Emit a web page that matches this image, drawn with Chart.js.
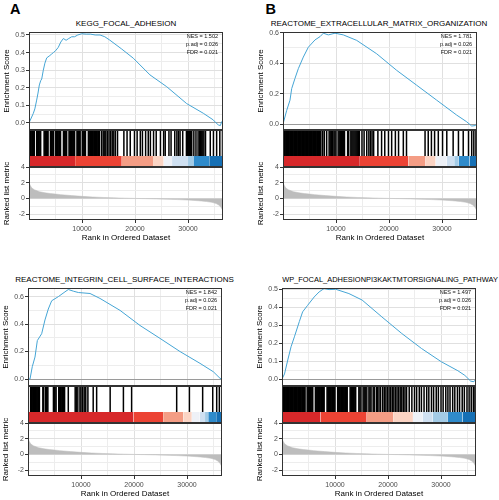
<!DOCTYPE html>
<html><head><meta charset="utf-8">
<script src="https://cdn.jsdelivr.net/npm/chart.js@4.4.0/dist/chart.umd.min.js"></script>
<style>
html,body{margin:0;padding:0;background:#fff;}
#wrap{position:relative;width:499px;height:500px;overflow:hidden;font-family:"Liberation Sans",Arial,sans-serif;}
canvas{position:absolute;}
.lbl{position:absolute;font-weight:bold;font-size:14.5px;line-height:14px;color:#000;white-space:nowrap;}
.ttl{position:absolute;font-size:8px;line-height:10px;text-align:center;white-space:nowrap;color:#000;width:300px;}
</style></head><body><div id="wrap"></div>
<script>
// ---------------- data ----------------
const N = 36600;
const rankTicks = [5000, 10000, 15000, 20000, 25000, 30000, 35000];
const rankLabels = [10000, 20000, 30000];

// ranked list metric (shared by all panels)
const metricRank  = [0, 200, 500, 1000, 2000, 3000, 4000, 5000, 6000, 8000, 10000, 12000, 14000, 16000, 18000, 20000, 22000, 24000, 26000, 28000, 30000, 32000, 33500, 34500, 35300, 35800, 36200, 36450, 36600];
const metricValue = [2.1, 1.7, 1.35, 1.1, 0.85, 0.72, 0.62, 0.55, 0.48, 0.36, 0.26, 0.18, 0.12, 0.07, 0.03, 0.0, -0.03, -0.06, -0.1, -0.15, -0.21, -0.3, -0.4, -0.5, -0.65, -0.85, -1.1, -1.4, -1.8];
const metricTicks = [-2, -1, 0, 1, 2, 3, 4];
const metricLabels = [-2, 0, 2, 4];

// running enrichment scores
const esRankA  = [0, 820, 1100, 1450, 1700, 1950, 2200, 2400, 2700, 3000, 3340, 3800, 4200, 4590, 5000, 5530, 6000, 6480, 7000, 7500, 8050, 8600, 9200, 9940, 10800, 11600, 12500, 13400, 14300, 15280, 17500, 19680, 22830, 25980, 29750, 32890, 34780, 35300, 35720, 36100, 36350, 36600];
const esScoreA = [0, 0.055, 0.08, 0.13, 0.17, 0.216, 0.24, 0.25, 0.30, 0.34, 0.37, 0.38, 0.39, 0.40, 0.41, 0.43, 0.46, 0.48, 0.47, 0.48, 0.49, 0.49, 0.50, 0.507, 0.505, 0.505, 0.50, 0.50, 0.49, 0.47, 0.42, 0.368, 0.273, 0.206, 0.11, 0.055, 0.017, 0.0, -0.011, -0.015, 0.007, 0];
const esRankB  = [0, 700, 1320, 1640, 2260, 2890, 3830, 4780, 6040, 7000, 7610, 8550, 9810, 11380, 13900, 17670, 21450, 25230, 29000, 32770, 34660, 35600, 36230, 36600];
const esScoreB = [0, 0.09, 0.157, 0.233, 0.30, 0.364, 0.44, 0.505, 0.553, 0.575, 0.597, 0.586, 0.597, 0.586, 0.55, 0.462, 0.353, 0.255, 0.157, 0.059, 0.015, -0.013, -0.01, 0];
const esRankC  = [0, 380, 810, 1320, 1760, 2580, 3200, 3830, 4470, 5720, 6980, 7610, 8550, 9500, 11700, 13580, 17360, 21130, 24900, 28680, 32450, 34960, 36230, 36600];
const esScoreC = [0, 0.0, 0.09, 0.16, 0.28, 0.33, 0.43, 0.51, 0.57, 0.60, 0.635, 0.652, 0.64, 0.63, 0.623, 0.587, 0.50, 0.39, 0.296, 0.2, 0.114, 0.053, 0.005, 0];
const esRankD  = [0, 470, 1090, 1710, 2340, 3270, 3890, 4820, 6070, 7000, 7940, 8880, 10130, 12620, 15110, 18840, 22580, 26320, 30060, 33180, 34500, 35600, 36200, 36600];
const esScoreD = [0, 0.028, 0.106, 0.18, 0.235, 0.32, 0.374, 0.41, 0.457, 0.485, 0.504, 0.498, 0.5, 0.476, 0.44, 0.346, 0.254, 0.17, 0.096, 0.046, 0.02, -0.012, -0.015, 0];

// enrichment-score axes: [min, max], grid ticks, labelled ticks
const esRangeA = [-0.04, 0.517],  esTicksA = [0, 0.05, 0.1, 0.15, 0.2, 0.25, 0.3, 0.35, 0.4, 0.45, 0.5], esLabelsA = [0, 0.1, 0.2, 0.3, 0.4, 0.5];
const esRangeB = [-0.039, 0.605], esTicksB = [0, 0.1, 0.2, 0.3, 0.4, 0.5, 0.6],                         esLabelsB = [0, 0.2, 0.4, 0.6];
const esRangeC = [-0.051, 0.663], esTicksC = [0, 0.1, 0.2, 0.3, 0.4, 0.5, 0.6],                         esLabelsC = [0, 0.2, 0.4, 0.6];
const esRangeD = [-0.039, 0.507], esTicksD = [0, 0.05, 0.1, 0.15, 0.2, 0.25, 0.3, 0.35, 0.4, 0.45, 0.5], esLabelsD = [0, 0.1, 0.2, 0.3, 0.4, 0.5];
const metricRange = [-2.75, 4];

// gene-set hit positions (rank)
const hitsA = [100,250,400,550,700,850,1000,1450,1600,1750,1900,2050,2200,2850,3000,3150,3300,3450,3600,4050,4200,4350,4500,4650,5050,5200,5350,5500,5650,5800,5950,6500,6650,6800,6950,7100,7550,7700,7850,8000,8150,8300,8450,8600,9050,9200,9350,9500,9650,10050,10200,10350,10500,10650,11200,11350,11500,11650,11800,11950,12100,12250,12400,12550,12700,12850,13000,13150,13300,
  13700,14000,14300,14500,14800,15100,15400,15700,16000,16300,16700,
  17900,18500,19100,19900,20400,21000,21400,22000,22500,22900,23500,24000,24800,25400,25700,26400,26800,27500,27900,28200,28500,29000,
  29700,29900,30100,30300,30500,30700,31100,31500,31900,32200,32400,32600,32800,33000,33300,
  34200,34800,35400,36000,36500];
const hitsB = [100,250,400,550,700,850,1000,1150,1300,1450,1600,1750,1900,2050,2200,2350,2500,2650,2800,2950,3100,3250,3400,3550,3700,3850,4000,4150,4300,4450,4600,4750,4900,5050,5200,5350,5500,5650,5800,5950,6100,6250,6400,6550,6700,6850,7000,7150,
  7500,7800,8240,8700,8900,9100,9300,9600,9800,10000,10400,10600,10800,11000,11200,11400,11600,12200,12400,12800,13000,13200,13400,13600,13800,14000,14200,14400,14900,15300,15800,16200,16500,16800,17100,17900,18600,19200,19900,20500,21200,21800,22700,23300,
  26800,27400,28000,28600,29300,30100,30900,32100,33100,34000,35000,35600,36000,36400];
const hitsC = [500,650,800,1000,1250,1400,1550,1700,1850,2000,2150,2800,2950,3300,3450,3600,3750,4800,4950,5100,5300,5800,5950,6100,6250,6400,6550,6700,6900,7600,8900,9100,9400,9800,10000,10300,10600,10900,11300,12300,12950,15500,18000,19550,28050,30450,32950,34850,35600,36100];
const hitsD = [150,300,450,600,750,900,1050,1200,1350,1500,1650,1800,1950,2100,2250,2400,2550,2700,2850,3000,3150,3300,3450,3600,3750,3900,4050,4200,4350,4750,4900,5050,5200,5350,5500,5650,5800,6300,6450,6600,6750,6900,7050,7200,7350,7500,7650,7800,7950,8500,8650,8800,8950,9100,9250,9400,9550,9700,9850,10000,10500,10650,10800,10950,11100,11250,11400,11550,11700,11850,12000,12150,12300,12850,13000,13150,13300,13450,13600,13750,13900,
  14500,14700,14900,15300,15500,15700,16000,16400,16600,16800,17200,17400,17800,18000,18300,18600,
  19000,19300,19600,19900,20200,20500,20800,21100,21400,21700,22000,22300,22600,22900,23200,23500,
  24000,24500,25000,25400,25900,26300,26800,27300,27700,28200,28600,29100,29500,30000,30400,30900,31300,31700,32200,32600,33100,33500,34000,34400,34900,35300,35700,36100,36400];

// colour-bar bin edges (rank)
const binEdgesA = [0, 8700, 17500, 23400, 25400, 27000, 30000, 31000, 34000, 36600];
const binEdgesB = [0, 14500, 23650, 26900, 28800, 30900, 32300, 33100, 35200, 36600];
const binEdgesC = [0, 19900, 25500, 29300, 30900, 32400, 33400, 34000, 35500, 36600];
const binEdgesD = [0, 7260, 15980, 20970, 24700, 26500, 28440, 31300, 34050, 36600];

const statsA = ['NES = 1.502', 'p.adj = 0.026', 'FDR = 0.021'];
const statsB = ['NES = 1.781', 'p.adj = 0.026', 'FDR = 0.021'];
const statsC = ['NES = 1.842', 'p.adj = 0.026', 'FDR = 0.021'];
const statsD = ['NES = 1.497', 'p.adj = 0.026', 'FDR = 0.021'];

// ---------------- styles ----------------
const binColors = ['#d7282a', '#ec4334', '#f49d85', '#fbd4c4', '#eef1f7', '#cfe0f1', '#a3cbe6', '#2f8bcb', '#1670b5'];
const FONT = '"Liberation Sans", Arial, sans-serif';
const ES_COLOR = '#45a5d5';
const MAJOR = '#e0e0e0', MINOR = '#ededed', TRANSPARENT = 'rgba(0,0,0,0)';

Chart.defaults.font.family = FONT;
Chart.defaults.animation = false;
Chart.defaults.responsive = false;
Chart.defaults.plugins.legend.display = false;
Chart.defaults.plugins.tooltip.enabled = false;

const framePlugin = {
  id: 'frame',
  afterDraw(chart) {
    const a = chart.chartArea, ctx = chart.ctx;
    ctx.save();
    ctx.strokeStyle = '#333'; ctx.lineWidth = 1;
    ctx.strokeRect(Math.round(a.left) + 0.5, Math.round(a.top) + 0.5, Math.round(a.right - a.left) - 1, Math.round(a.bottom - a.top) - 1);
    ctx.restore();
  }
};
const statsPlugin = {
  id: 'stats',
  afterDatasetsDraw(chart, args, opts) {
    if (!opts || !opts.lines) return;
    const a = chart.chartArea, ctx = chart.ctx;
    ctx.save();
    ctx.font = '5.5px ' + FONT; ctx.fillStyle = '#111';
    ctx.textAlign = 'right'; ctx.textBaseline = 'middle';
    opts.lines.forEach((t, i) => ctx.fillText(t, a.right - 5, a.top + 4.5 + i * 8));
    ctx.restore();
  }
};

const wrap = document.getElementById('wrap');
function makeCanvas(left, top, w, h) {
  const c = document.createElement('canvas');
  c.width = w; c.height = h;
  c.style.left = left + 'px'; c.style.top = top + 'px';
  c.style.width = w + 'px'; c.style.height = h + 'px';
  wrap.appendChild(c);
  return c;
}
function addText(cls, txt, left, top, extra) {
  const d = document.createElement('div');
  d.className = cls; d.textContent = txt;
  d.style.left = left + 'px'; d.style.top = top + 'px';
  if (extra) Object.assign(d.style, extra);
  wrap.appendChild(d);
}
const inList = (v, list) => list.some(t => Math.abs(t - v) < 1e-6);
const setTicks = list => s => { s.ticks = list.map(v => ({value: v})); };

const panels = [
  {letter: 'A', title: 'KEGG_FOCAL_ADHESION', tc: 126, tfs: 8, ox: 0, oy: 0, lx: 10, ly: 1.5,
   esRank: esRankA, es: esScoreA, hits: hitsA, edges: binEdgesA, stats: statsA, range: esRangeA, ticks: esTicksA, labels: esLabelsA},
  {letter: 'B', title: 'REACTOME_EXTRACELLULAR_MATRIX_ORGANIZATION', tc: 379, tfs: 8, ox: 254, oy: 0, lx: 265.5, ly: 1.5,
   esRank: esRankB, es: esScoreB, hits: hitsB, edges: binEdgesB, stats: statsB, range: esRangeB, ticks: esTicksB, labels: esLabelsB},
  {letter: 'C', title: 'REACTOME_INTEGRIN_CELL_SURFACE_INTERACTIONS', tc: 124.5, tfs: 8, ox: -1, oy: 256, lx: 12, ly: 257,
   esRank: esRankC, es: esScoreC, hits: hitsC, edges: binEdgesC, stats: statsC, range: esRangeC, ticks: esTicksC, labels: esLabelsC},
  {letter: 'D', title: 'WP_FOCAL_ADHESIONPI3KAKTMTORSIGNALING_PATHWAY', tc: 390, tfs: 7.45, ox: 253, oy: 256, lx: 264.5, ly: 257,
   esRank: esRankD, es: esScoreD, hits: hitsD, edges: binEdgesD, stats: statsD, range: esRangeD, ticks: esTicksD, labels: esLabelsD}
];

panels.forEach(p => {
  addText('lbl', p.letter, p.lx, p.oy + p.ly);
  addText('ttl', p.title, p.tc - 150, p.oy + 18.5, {fontSize: p.tfs + 'px'});

  // ---- running enrichment score ----
  new Chart(makeCanvas(p.ox, p.oy + 26, 229, 110), {
    type: 'line',
    data: {datasets: [{data: p.esRank.map((r, i) => ({x: r, y: p.es[i]})), borderColor: ES_COLOR, borderWidth: 1, pointRadius: 0, tension: 0, fill: false}]},
    options: {
      layout: {autoPadding: false, padding: {left: 0, right: 6, top: 6, bottom: 6}},
      scales: {
        x: {type: 'linear', min: 0, max: N,
            afterBuildTicks: setTicks(rankTicks),
            ticks: {display: false},
            grid: {color: ctx => inList(ctx.tick.value, rankLabels) ? MAJOR : MINOR, drawTicks: false},
            border: {display: false},
            afterFit: s => { s.height = 0; }},
        y: {type: 'linear', min: p.range[0], max: p.range[1],
            afterBuildTicks: setTicks(p.ticks),
            ticks: {autoSkip: false, font: {size: 7}, color: '#4d4d4d', padding: 1,
                    callback: v => inList(v, p.labels) ? v.toFixed(1) : ''},
            grid: {color: ctx => Math.abs(ctx.tick.value) < 1e-9 ? '#9a9a9a' : (inList(ctx.tick.value, p.labels) ? MAJOR : MINOR),
                   tickLength: 3,
                   tickColor: ctx => inList(ctx.tick.value, p.labels) ? '#333' : TRANSPARENT},
            border: {display: false},
            title: {display: true, text: 'Enrichment Score', font: {size: 8}, color: '#000', padding: {top: 2, bottom: 0}},
            afterFit: s => { s.width = 29; }}
      },
      plugins: {stats: {lines: p.stats}}
    },
    plugins: [framePlugin, statsPlugin]
  });

  // ---- hits + colour bar ----
  const barDs = [];
  for (let i = 0; i < p.edges.length - 1; i++) {
    barDs.push({type: 'line', data: [{x: p.edges[i], y: 0.297}, {x: p.edges[i + 1], y: 0.297}],
      fill: {value: 0}, backgroundColor: binColors[i], borderWidth: 0, borderColor: TRANSPARENT, pointRadius: 0});
  }
  new Chart(makeCanvas(p.ox + 29, p.oy + 130, 194, 37), {
    type: 'scatter',
    data: {datasets: barDs.concat([{type: 'scatter', data: p.hits.map(h => ({x: h, y: 0.649})),
      pointStyle: 'line', pointRotation: 90, pointRadius: 13, pointBorderWidth: 1.5, pointBorderColor: '#000', pointBackgroundColor: '#000'}])},
    options: {
      layout: {autoPadding: false, padding: 0},
      scales: {x: {type: 'linear', display: false, min: 0, max: N}, y: {type: 'linear', display: false, min: 0, max: 1}}
    },
    plugins: [framePlugin]
  });

  // ---- ranked list metric ----
  new Chart(makeCanvas(p.ox, p.oy + 161, 229, 82), {
    type: 'line',
    data: {datasets: [{data: metricRank.map((r, i) => ({x: r, y: metricValue[i]})), borderColor: '#bdbdbd', borderWidth: 0.5,
      backgroundColor: '#bdbdbd', fill: 'origin', pointRadius: 0, tension: 0}]},
    options: {
      layout: {autoPadding: false, padding: {left: 0, right: 6, top: 6, bottom: 0}},
      scales: {
        x: {type: 'linear', min: 0, max: N,
            afterBuildTicks: setTicks(rankTicks),
            ticks: {autoSkip: false, maxRotation: 0, minRotation: 0, font: {size: 7}, color: '#4d4d4d', padding: 2,
                    callback: v => inList(v, rankLabels) ? String(v) : ''},
            grid: {color: ctx => inList(ctx.tick.value, rankLabels) ? MAJOR : MINOR, tickLength: 3,
                   tickColor: ctx => inList(ctx.tick.value, rankLabels) ? '#333' : TRANSPARENT},
            border: {display: false},
            title: {display: true, text: 'Rank in Ordered Dataset', font: {size: 8}, color: '#000', padding: {top: 1, bottom: 0}},
            afterFit: s => { s.height = 23; }},
        y: {type: 'linear', min: metricRange[0], max: metricRange[1],
            afterBuildTicks: setTicks(metricTicks),
            ticks: {autoSkip: false, font: {size: 7}, color: '#4d4d4d', padding: 1,
                    callback: v => inList(v, metricLabels) ? String(v) : ''},
            grid: {color: ctx => inList(ctx.tick.value, metricLabels) ? MAJOR : MINOR, tickLength: 3,
                   tickColor: ctx => inList(ctx.tick.value, metricLabels) ? '#333' : TRANSPARENT},
            border: {display: false},
            title: {display: true, text: 'Ranked list metric', font: {size: 8}, color: '#000', padding: {top: 2, bottom: 0}},
            afterFit: s => { s.width = 29; }}
      }
    },
    plugins: [framePlugin]
  });
});
</script></body></html>
